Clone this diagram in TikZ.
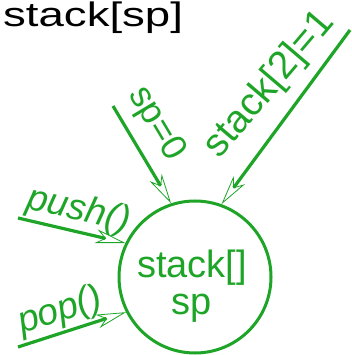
\documentclass[tikz,border=0pt]{standalone}
\usepackage{fontspec}
\setmainfont{Liberation Sans}
\usepackage{tikz}
\usetikzlibrary{arrows.meta, positioning}
\definecolor{grn}{RGB}{30,165,40}

\begin{document}
\begin{tikzpicture}[x=1pt, y=1pt,
    stk/.style={circle, draw=grn, line width=3pt, minimum size=152pt, inner sep=0pt},
    lbl/.style={text=grn, font=\fontsize{38}{37}\selectfont, align=center},
    call/.style={draw=grn, line width=3.2pt, -{Stealth[open, length=30pt, width=14pt, inset=9pt, line width=0.8pt]}},
    tag/.style={text=grn, font=\fontsize{36}{36}\selectfont, sloped, inner sep=1pt}
]
    \useasboundingbox (0,0) rectangle (351,355);
    \node[anchor=base west, inner sep=0pt, font=\fontsize{34}{34}\selectfont] (title) at (3,328) {\scalebox{1.34}[1]{stack[sp]}};

    \node[stk] (st) at (195,78) {};
    \node[lbl] (stx) at (192,69) {stack[]\\sp};

    \coordinate (spin) at (113,249);
    \coordinate (arin) at (350,325);
    \coordinate (puin) at (18,137);
    \coordinate (poin) at (18,8);

    \draw[call] (spin) -- node[tag, pos=0.33, above=9pt] (tsp) {sp=0} (st.108);
    \draw[call] (arin) -- node[tag, pos=0.43, above=11pt, rotate=-4, font=\fontsize{39}{39}\selectfont] (tar) {stack[2]=1} (st.70);
    \draw[call] (puin) -- node[tag, pos=0.52, above=1pt, font=\fontsize{37}{37}\selectfont\itshape] (tpu) {push()} (st.154);
    \draw[call] (poin) -- node[tag, pos=0.45, above=1pt, font=\fontsize{37}{37}\selectfont\itshape] (tpo) {pop()} (st.207);
\end{tikzpicture}
\end{document}
